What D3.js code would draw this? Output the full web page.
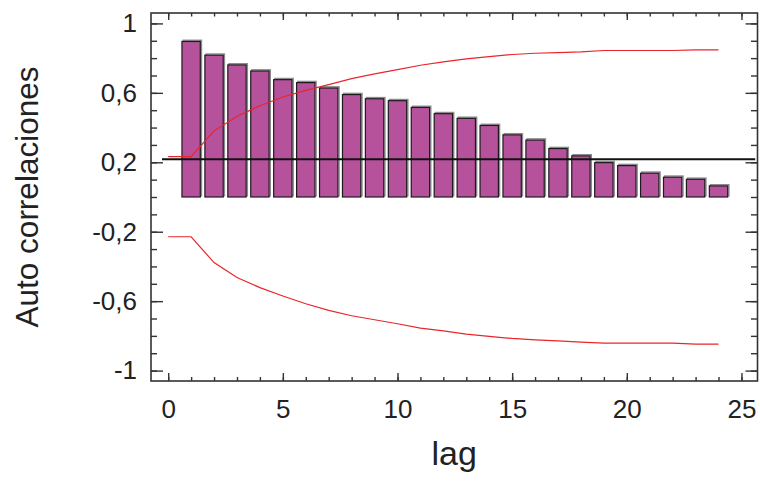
<!DOCTYPE html>
<html>
<head>
<meta charset="utf-8">
<script src="https://cdn.jsdelivr.net/npm/d3@7"></script>
<style>
  html, body { margin: 0; padding: 0; background: #fff; }
  svg { display: block; font-family: "Liberation Sans", Arial, Helvetica, sans-serif; }
</style>
</head>
<body>
<svg id="chart" width="760" height="483"></svg>
<script>
// Autocorrelation function by lag, with its confidence bands
const lags = [1, 2, 3, 4, 5, 6, 7, 8, 9, 10, 11, 12, 13, 14, 15, 16, 17, 18, 19, 20, 21, 22, 23, 24];
const acf = [0.896, 0.817, 0.761, 0.726, 0.676, 0.659, 0.628, 0.590, 0.566, 0.555, 0.516, 0.480,
             0.453, 0.412, 0.358, 0.328, 0.279, 0.237, 0.198, 0.181, 0.137, 0.114, 0.102, 0.064];

const bandLags = [0, 1, 2, 3, 4, 5, 6, 7, 8, 9, 10, 11, 12, 13, 14, 15, 16, 17, 18, 19, 20, 21, 22, 23, 24];
const upperBand = [0.233, 0.233, 0.381, 0.464, 0.526, 0.576, 0.614, 0.647, 0.682, 0.709, 0.734, 0.759,
                   0.778, 0.796, 0.809, 0.821, 0.828, 0.832, 0.836, 0.844, 0.844, 0.844, 0.844, 0.848, 0.848];
const lowerBand = [-0.229, -0.229, -0.378, -0.464, -0.522, -0.570, -0.615, -0.653, -0.684, -0.707, -0.730, -0.755,
                   -0.771, -0.790, -0.803, -0.815, -0.823, -0.829, -0.836, -0.842, -0.842, -0.842, -0.842, -0.848, -0.848];

// Horizontal reference level and the lag range it covers
const refLevel = 0.218;
const refSpan = [-0.27, 25.6];

const xTicks = [0, 5, 10, 15, 20, 25];
const xMinorTicks = [0, 1, 2, 3, 4, 5, 6, 7, 8, 9, 10, 11, 12, 13, 14, 15, 16, 17, 18, 19, 20, 21, 22, 23, 24, 25];
const yTicks = [1, 0.6, 0.2, -0.2, -0.6, -1];
const yMinorTicks = [1, 0.9, 0.8, 0.7, 0.6, 0.5, 0.4, 0.3, 0.2, 0.1, 0, -0.1, -0.2, -0.3, -0.4, -0.5, -0.6, -0.7, -0.8, -0.9, -1];

const xLabel = "lag";
const yLabel = "Auto correlaciones";

const plot = { left: 151, right: 757.5, top: 13, bottom: 381 };

const svg = d3.select("#chart");

const x = d3.scaleLinear().domain([-0.75, 25.7]).range([plot.left, plot.right]);
const y = d3.scaleLinear().domain([-1.06, 1.06]).range([plot.bottom, plot.top]);

// Decimal comma and a plain hyphen for negatives
const fmt = v => String(v).replace(".", ",");

// Bars: a faint offset outline behind each bar, then the filled bar
const barHalf = 0.4;
const bars = svg.append("g");
bars.selectAll("rect.shadow")
  .data(lags)
  .join("rect")
  .attr("class", "shadow")
  .attr("x", (d) => x(d - barHalf) + 1.2)
  .attr("y", (d, i) => y(acf[i]) - 1.2)
  .attr("width", x(barHalf) - x(-barHalf))
  .attr("height", (d, i) => y(0) - y(acf[i]))
  .attr("fill", "none")
  .attr("stroke", "#8c8c8c")
  .attr("stroke-width", 1.4);
bars.selectAll("rect.bar")
  .data(lags)
  .join("rect")
  .attr("class", "bar")
  .attr("x", (d) => x(d - barHalf))
  .attr("y", (d, i) => y(acf[i]))
  .attr("width", x(barHalf) - x(-barHalf))
  .attr("height", (d, i) => y(0) - y(acf[i]))
  .attr("fill", "#b6519c")
  .attr("stroke", "#1e1a1e")
  .attr("stroke-width", 1.2);

// Reference level
svg.append("line")
  .attr("x1", x(refSpan[0])).attr("x2", x(refSpan[1]))
  .attr("y1", y(refLevel)).attr("y2", y(refLevel))
  .attr("stroke", "#111").attr("stroke-width", 2);

// Confidence bands
const bandLine = (vals) => d3.line()
  .x((d) => x(d))
  .y((d, i) => y(vals[i]))(bandLags);
[upperBand, lowerBand].forEach(vals => {
  svg.append("path")
    .attr("d", bandLine(vals))
    .attr("fill", "none")
    .attr("stroke", "#e8262c")
    .attr("stroke-width", 1.2);
});

// Frame
svg.append("rect")
  .attr("x", plot.left).attr("y", plot.top)
  .attr("width", plot.right - plot.left).attr("height", plot.bottom - plot.top)
  .attr("fill", "none").attr("stroke", "#333").attr("stroke-width", 1.6);

// Axes with inward ticks on all four sides
const styleAxis = g => {
  g.select(".domain").remove();
  g.selectAll(".tick line").attr("stroke", "#333").attr("stroke-width", 1.4);
};

svg.append("g").attr("transform", `translate(0,${plot.bottom})`)
  .call(d3.axisBottom(x).tickValues(xMinorTicks).tickSize(-4).tickFormat(""))
  .call(styleAxis);
svg.append("g").attr("transform", `translate(0,${plot.top})`)
  .call(d3.axisTop(x).tickValues(xMinorTicks).tickSize(-3.5).tickFormat(""))
  .call(styleAxis);
svg.append("g").attr("transform", `translate(0,${plot.top})`)
  .call(d3.axisTop(x).tickValues(xTicks).tickSize(-7).tickFormat(""))
  .call(styleAxis);
const xAxis = svg.append("g").attr("transform", `translate(0,${plot.bottom})`)
  .call(d3.axisBottom(x).tickValues(xTicks).tickSize(-8).tickPadding(10).tickFormat(d3.format("d")))
  .call(styleAxis);
xAxis.selectAll(".tick text")
  .attr("y", 37).attr("dy", null)
  .attr("font-size", 26).attr("fill", "#222")
  .attr("font-family", "'Liberation Sans', Arial, sans-serif");

svg.append("g").attr("transform", `translate(${plot.left},0)`)
  .call(d3.axisLeft(y).tickValues(yMinorTicks).tickSize(-6).tickFormat(""))
  .call(styleAxis);
svg.append("g").attr("transform", `translate(${plot.right},0)`)
  .call(d3.axisRight(y).tickValues(yMinorTicks).tickSize(-6.5).tickFormat(""))
  .call(styleAxis);
svg.append("g").attr("transform", `translate(${plot.right},0)`)
  .call(d3.axisRight(y).tickValues(yTicks).tickSize(-12).tickFormat(""))
  .call(styleAxis);
const yAxis = svg.append("g").attr("transform", `translate(${plot.left},0)`)
  .call(d3.axisLeft(y).tickValues(yTicks).tickSize(-12).tickPadding(14).tickFormat(fmt))
  .call(styleAxis);
yAxis.selectAll(".tick text")
  .attr("font-size", 26).attr("fill", "#222")
  .attr("font-family", "'Liberation Sans', Arial, sans-serif");

// Axis titles
svg.append("text")
  .attr("x", (plot.left + plot.right) / 2).attr("y", 465)
  .attr("text-anchor", "middle")
  .attr("font-size", 34).attr("fill", "#222")
  .text(xLabel);
svg.append("text")
  .attr("transform", `translate(38,${(plot.top + plot.bottom) / 2}) rotate(-90)`)
  .attr("text-anchor", "middle")
  .attr("font-size", 31.5).attr("fill", "#222")
  .text(yLabel);
</script>
</body>
</html>
